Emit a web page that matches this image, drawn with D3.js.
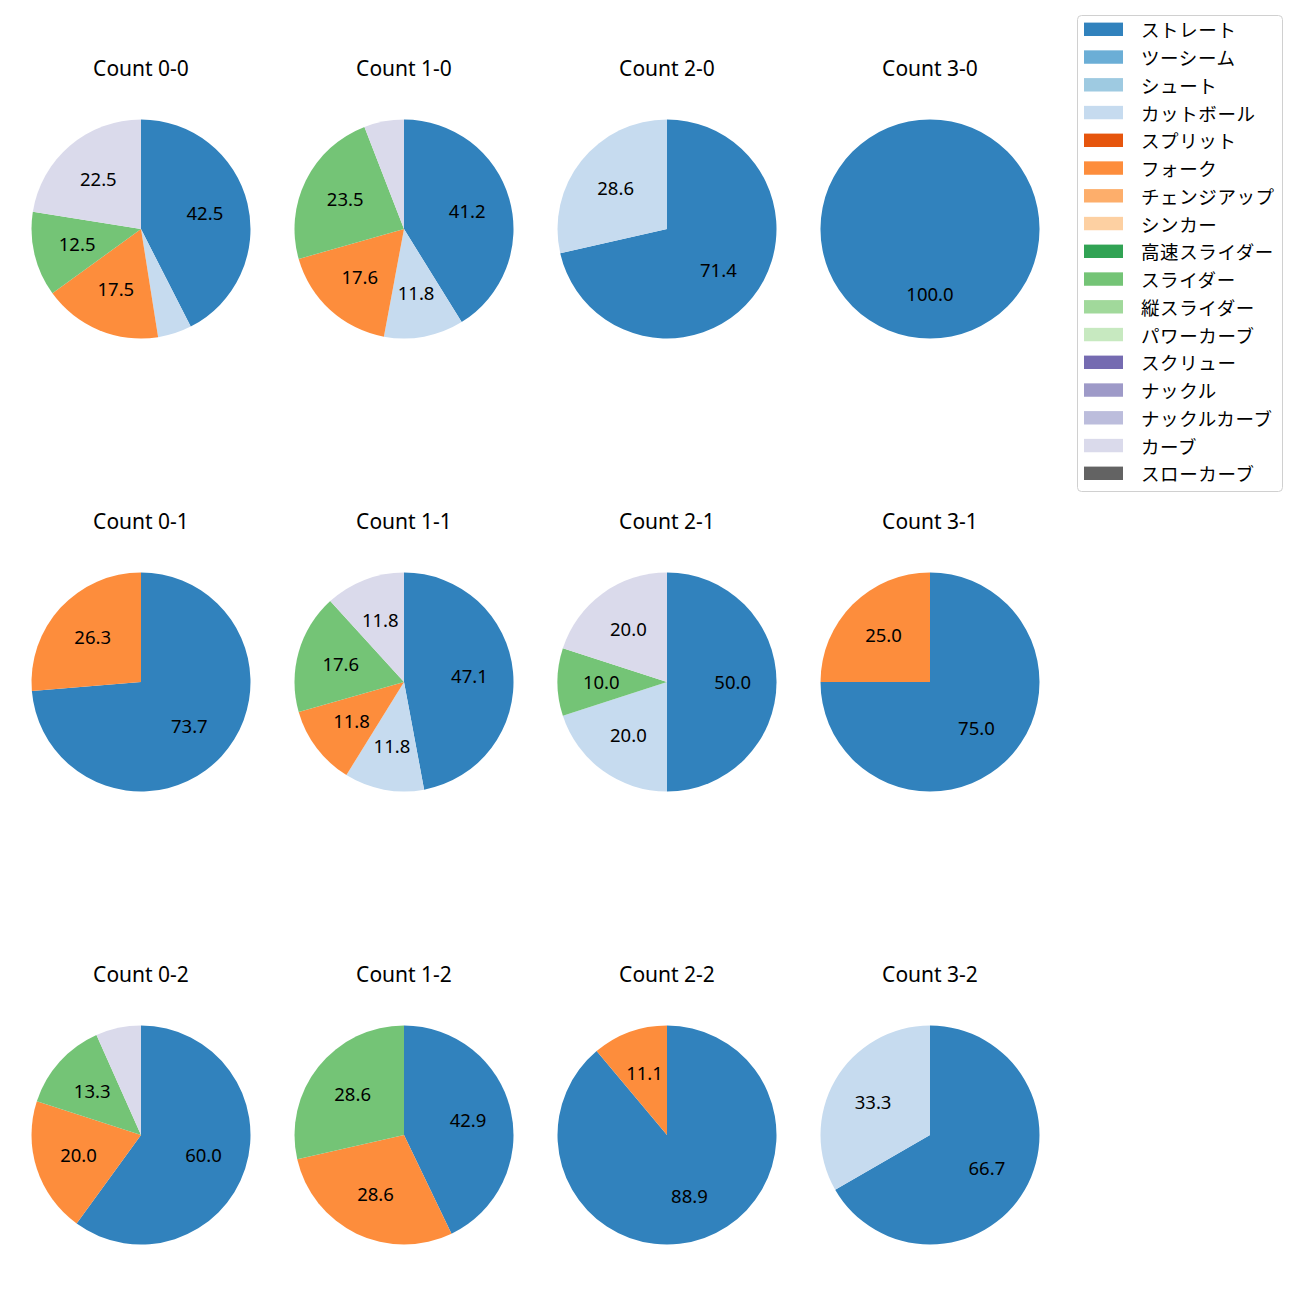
<!DOCTYPE html>
<html>
<head>
<meta charset="utf-8">
<script src="https://cdn.jsdelivr.net/npm/d3@7"></script>
<style>
  html, body { margin: 0; padding: 0; background: #fff; }
  svg { display: block; }
  text { font-family: "Noto Sans", "Noto Sans CJK JP", sans-serif; }
  text.jp { font-family: "Noto Sans CJK JP", sans-serif; }
</style>
</head>
<body>
<script>
// ---- Data ----
const pitchTypes = ["ストレート","ツーシーム","シュート","カットボール","スプリット","フォーク","チェンジアップ","シンカー","高速スライダー","スライダー","縦スライダー","パワーカーブ","スクリュー","ナックル","ナックルカーブ","カーブ","スローカーブ"];
const pitchColors = ["#3182bd","#6baed6","#9ecae1","#c6dbef","#e6550d","#fd8d3c","#fdae6b","#fdd0a2","#31a354","#74c476","#a1d99b","#c7e9c0","#756bb1","#9e9ac8","#bcbddc","#dadaeb","#636363"];
const countLabels = ["0-0","1-0","2-0","3-0","0-1","1-1","2-1","3-1","0-2","1-2","2-2","3-2"];
// pitch counts per ball-strike count (same order as countLabels)
const straight = [17,7,5,1,14,8,5,3,9,3,8,2];
const cutball  = [2,2,2,0,0,2,2,0,0,0,0,1];
const fork     = [7,3,0,0,5,2,0,1,3,2,1,0];
const slider   = [5,4,0,0,0,3,1,0,2,2,0,0];
const curve    = [9,1,0,0,0,2,2,0,1,0,0,0];
const seriesByType = {"ストレート": straight, "カットボール": cutball, "フォーク": fork, "スライダー": slider, "カーブ": curve};

// ---- Layout ----
const W = 1300, H = 1300;
const colX = d3.scalePoint().domain([0,1,2,3]).range([141, 930]);
const rowY = d3.scalePoint().domain([0,1,2]).range([229, 1135]);
const R = 109.5;

const svg = d3.select("body").append("svg").attr("width", W).attr("height", H);
const color = d3.scaleOrdinal().domain(pitchTypes).range(pitchColors);

const pie = d3.pie().sort(null).value(d => d.v).startAngle(0).endAngle(2*Math.PI);
const arc = d3.arc().innerRadius(0).outerRadius(R);
const labelArc = d3.arc().innerRadius(R*0.6).outerRadius(R*0.6);

countLabels.forEach((c, i) => {
  const col = i % 4, row = Math.floor(i / 4);
  const cx = colX(col);
  const cy = rowY(row);
  const g = svg.append("g").attr("transform", `translate(${cx},${cy})`);
  const data = pitchTypes.map(t => ({t, v: seriesByType[t] ? seriesByType[t][i] : 0}));
  const total = d3.sum(data, d => d.v);
  const arcs = pie(data).filter(a => a.data.v > 0);
  g.selectAll("path").data(arcs).join("path")
    .attr("d", arc)
    .attr("fill", d => color(d.data.t));
  g.selectAll("text.pct").data(arcs.filter(a => a.data.v / total * 100 >= 9.5)).join("text")
    .attr("class","pct")
    .attr("transform", d => `translate(${labelArc.centroid(d)})`)
    .attr("text-anchor","middle")
    .attr("dy","0.36em")
    .attr("font-size", 18.5)
    .attr("fill","#000")
    .text(d => (d.data.v / total * 100).toFixed(1));
  svg.append("text")
    .attr("x", cx).attr("y", cy - 153.5)
    .attr("text-anchor","middle")
    .attr("font-size", 21)
    .attr("fill","#000")
    .text("Count " + c);
});

// ---- Legend ----
const lg = svg.append("g");
lg.append("rect").attr("x",1077.5).attr("y",15.5).attr("width",205).attr("height",476)
  .attr("rx",4).attr("fill","#fff").attr("fill-opacity",0.8).attr("stroke","#d0d0d0");
const ly = d3.scalePoint().domain(pitchTypes).range([29.3, 473.3]);
pitchTypes.forEach(t => {
  lg.append("rect").attr("x",1084).attr("y",ly(t)-6.7).attr("width",39).attr("height",13.4).attr("fill",color(t));
  lg.append("text").attr("class","jp").attr("x",1141).attr("y",ly(t)).attr("dominant-baseline","central")
    .attr("font-size",18.5).attr("letter-spacing",0.6).attr("fill","#000").text(t);
});
</script>
</body>
</html>
